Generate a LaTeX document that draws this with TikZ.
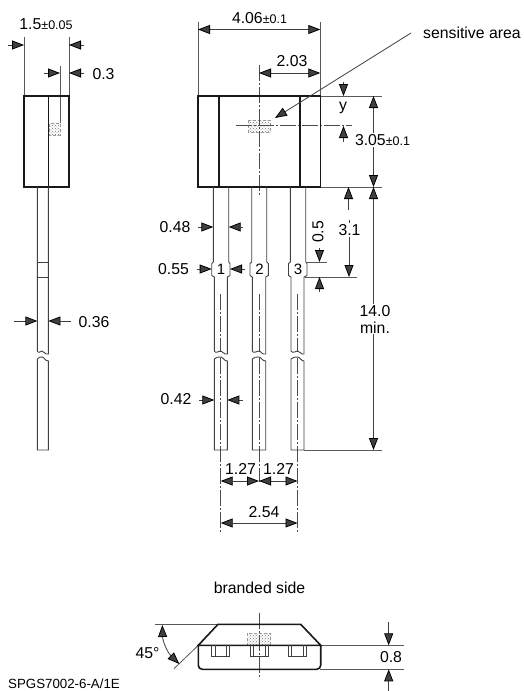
\documentclass[tikz,border=0pt]{standalone}
\usepackage{fontspec}
\setmainfont{Liberation Sans}
\usetikzlibrary{arrows.meta}
\usetikzlibrary{patterns}

\newcommand{\tolsize}{\fontsize{12.5}{14}\selectfont}

\tikzset{
  outline/.style={draw=black!90,line width=1.6pt},
  wire/.style={draw=black!75,line width=0.9pt},
  extline/.style={color=black!65,line width=0.8pt},
  midline/.style={color=black!70,line width=0.7pt,dash pattern=on 16pt off 2pt on 2pt off 2pt},
  dim/.style={color=black!75,line width=0.8pt,>={Triangle[length=12pt,width=9pt,color=black]}},
  patch/.style={draw=black!40,line width=0.5pt,densely dashed,pattern=crosshatch dots,pattern color=black!55},
  dimlab/.style={inner sep=0pt,font=\fontsize{15.8}{17}\selectfont},
  gaplab/.style={dimlab,fill=white,inner sep=1pt}
}

\begin{document}
\begin{tikzpicture}[x=1pt,y=-1pt]

  \useasboundingbox (0,0) rectangle (523,691);

  % side view
  \path [extline]
    (24,37) edge (24,96)
    (69,37) edge (69,96)
    (60,66) edge (60,123);
  \path [patch] (49.5,123.5) rectangle (60,135);
  \draw [outline] (24,96) rectangle (69,187);
  \draw [outline] (48.3,96) -- (48.3,187);

  \draw [wire] (37.4,187) -- (37.4,351) .. controls (39,354) and (40,351) .. (42,351) .. controls (44,351) and (45,355) .. (48.4,354) -- (48.4,187);
  \draw [wire] (37.4,262) -- (48.4,262);
  \draw [wire] (37.4,277) -- (48.4,277);
  \draw [wire] (37.4,359) .. controls (39,357) and (40,357) .. (42,357) .. controls (44,357) and (45,361) .. (48.4,361) -- (48.4,450) -- (37.4,450) -- cycle;

  \path [dim,->]
    (8,45) edge (24,45)
    (84,45) edge (69,45)
    (44,73) edge (60,73)
    (84,73) edge (69,73)
    (14,321) edge (37.4,321)
    (71,321) edge (48.4,321);

  \node [dimlab] (side_w) at (46,24) {1.5{\tolsize±0.05}};
  \node [dimlab] (side_sens) at (103.5,74) {0.3};
  \node [dimlab] (side_lead) at (94,322) {0.36};

  % front view
  \path [extline]
    (198,22) edge (198,96)
    (320.3,22) edge (320.3,96)
    (320,96) edge (382,96)
    (320,187) edge (382,187)
    (305,277) edge (357,277)
    (307,262) edge (327,262)
    (304,450) edge (382,450);
  \path [patch] (248,120) rectangle (270,132);
  \path [midline]
    (259,65) edge (259,197)
    (236,125.7) edge (352,125.7)
    (220.7,294) edge (220.7,352)
    (259,294) edge (259,352)
    (297.5,294) edge (297.5,352)
    (220.7,358) edge (220.7,533)
    (259,358) edge (259,482)
    (297.5,358) edge (297.5,533);
  \draw [outline] (198,96) rectangle (320.3,187);
  \draw [outline] (218.7,96) -- (218.7,187);
  \draw [outline] (300,96) -- (300,187);

  % leads
  \draw [wire] (213.3,187) -- (213.3,262) -- (211.7,263.5) -- (211.7,275.5) -- (214.3,277) -- (214.3,351)
    .. controls (216,354) and (218,351) .. (220.7,351) .. controls (223,351) and (224,355) .. (227.3,354)
    -- (227.3,277) -- (230,275.5) -- (230,263.5) -- (228.7,262) -- (228.7,187);
  \draw [wire] (214.3,359) .. controls (216,357) and (218,357) .. (220.7,357) .. controls (223,357) and (224,361) .. (227.3,361)
    -- (227.3,450) -- (214.3,450) -- cycle;
  \draw [wire] (251.7,187) -- (251.7,262) -- (250,263.5) -- (250,275.5) -- (252.3,277) -- (252.3,351)
    .. controls (254,354) and (256,351) .. (259,351) .. controls (261,351) and (262,355) .. (265.7,354)
    -- (265.7,277) -- (268.3,275.5) -- (268.3,263.5) -- (266.7,262) -- (266.7,187);
  \draw [wire] (252.3,359) .. controls (254,357) and (256,357) .. (259,357) .. controls (261,357) and (262,361) .. (265.7,361)
    -- (265.7,450) -- (252.3,450) -- cycle;
  \draw [wire] (290.3,187) -- (290.3,262) -- (288.5,263.5) -- (288.5,275.5) -- (291,277) -- (291,351)
    .. controls (293,354) and (295,351) .. (297.5,351) .. controls (300,351) and (301,355) .. (304,354)
    -- (304,277) -- (307,275.5) -- (307,263.5) -- (305.7,262) -- (305.7,187);
  \draw [wire] (291,359) .. controls (293,357) and (295,357) .. (297.5,357) .. controls (300,357) and (301,361) .. (304,361)
    -- (304,450) -- (291,450) -- cycle;

  \node [inner sep=0pt,font=\fontsize{15}{16}\selectfont] (pin_1) at (221,269.5) {1};
  \node [inner sep=0pt,font=\fontsize{15}{16}\selectfont] (pin_2) at (259.5,269.5) {2};
  \node [inner sep=0pt,font=\fontsize{15}{16}\selectfont] (pin_3) at (298,269.5) {3};

  \path [dim,<->]
    (198,29.5) edge (320.3,29.5)
    (259,73) edge (320.3,73)
    (220.7,481) edge (259,481)
    (259,481) edge (297.5,481)
    (220.7,523) edge (297.5,523)
    (373.5,96) edge (373.5,187)
    (373.5,187) edge (373.5,450);
  \path [dim,->]
    (343.5,82) edge (343.5,96)
    (343.5,142) edge (343.5,126)
    (348.5,210) edge (348.5,187)
    (349,220) edge (349,277)
    (319.5,248) edge (319.5,262)
    (319.5,292) edge (319.5,277)
    (198,227) edge (213.3,227)
    (243,227) edge (228.7,227)
    (197,269) edge (211.7,269)
    (245,269) edge (230,269)
    (199,400) edge (214.3,400)
    (243,400) edge (227.3,400)
    (411,33) edge (275,118);

  \node [dimlab] (front_w) at (259.5,18) {4.06{\tolsize±0.1}};
  \node [dimlab] (front_half) at (292,61) {2.03};
  \node [dimlab,anchor=west] (sens_lab) at (423,33) {sensitive area};
  \node [dimlab] (sens_y) at (343,108) {y};
  \node [gaplab] (front_h) at (382.5,140) {3.05{\tolsize±0.1}};
  \node [gaplab] (lead_len) at (349.5,230) {3.1};
  \node [dimlab,rotate=90] (tab_gap) at (318,232) {0.5};
  \node [gaplab,align=center,font=\fontsize{15.8}{17}\selectfont] (lead_min) at (375,319) {14.0\\min.};
  \node [dimlab] (lead_up) at (175,227) {0.48};
  \node [dimlab] (lead_tab) at (173.5,269) {0.55};
  \node [dimlab] (lead_low) at (176,399) {0.42};
  \node [dimlab] (pitch_a) at (240.5,469) {1.27};
  \node [dimlab] (pitch_b) at (278.5,469) {1.27};
  \node [dimlab] (pitch_c) at (264,512) {2.54};

  % branded side
  \node [dimlab] (brand_lab) at (259.5,588) {branded side};

  \path [extline]
    (155,624.3) edge (218,624.3)
    (174,668.7) edge (198.3,645.3)
    (320,645.3) edge (404,645.3)
    (320,669.3) edge (404,669.3);
  \path [patch] (247.7,633.3) rectangle (270.3,645.3);
  \path [midline] (259,613) edge (259,679);
  \draw [outline] (198.3,645.3) -- (218,624.3) -- (300.7,624.3) -- (320.7,645.3) -- cycle;
  \draw [outline,rounded corners=4pt] (198.3,645.3) -- (198.3,669.3) -- (320.7,669.3) -- (320.7,645.3);

  \draw [wire] (211.7,645.3) -- (211.7,656.7) -- (229.3,656.7) -- (229.3,645.3);
  \draw [wire] (215,645.3) -- (215,656.7);
  \draw [wire] (226,645.3) -- (226,656.7);
  \draw [wire] (250,645.3) -- (250,656.7) -- (268.3,656.7) -- (268.3,645.3);
  \draw [wire] (253.5,645.3) -- (253.5,656.7);
  \draw [wire] (265,645.3) -- (265,656.7);
  \draw [wire] (288.3,645.3) -- (288.3,656.7) -- (306.7,656.7) -- (306.7,645.3);
  \draw [wire] (291.7,645.3) -- (291.7,656.7);
  \draw [wire] (303.5,645.3) -- (303.5,656.7);

  \path [dim,<->] (162.3,625) edge [bend right=22] (179.3,664);
  \path [dim,->]
    (388.7,622) edge (388.7,645.3)
    (388.7,691) edge (388.7,669.3);

  \node [dimlab] (angle_lab) at (147.5,653) {45°};
  \node [dimlab] (thick_lab) at (391,657) {0.8};
  \node [inner sep=0pt,anchor=west,font=\fontsize{13.3}{15}\selectfont] (doc_id) at (8,684) {SPGS7002-6-A/1E};

\end{tikzpicture}
\end{document}
